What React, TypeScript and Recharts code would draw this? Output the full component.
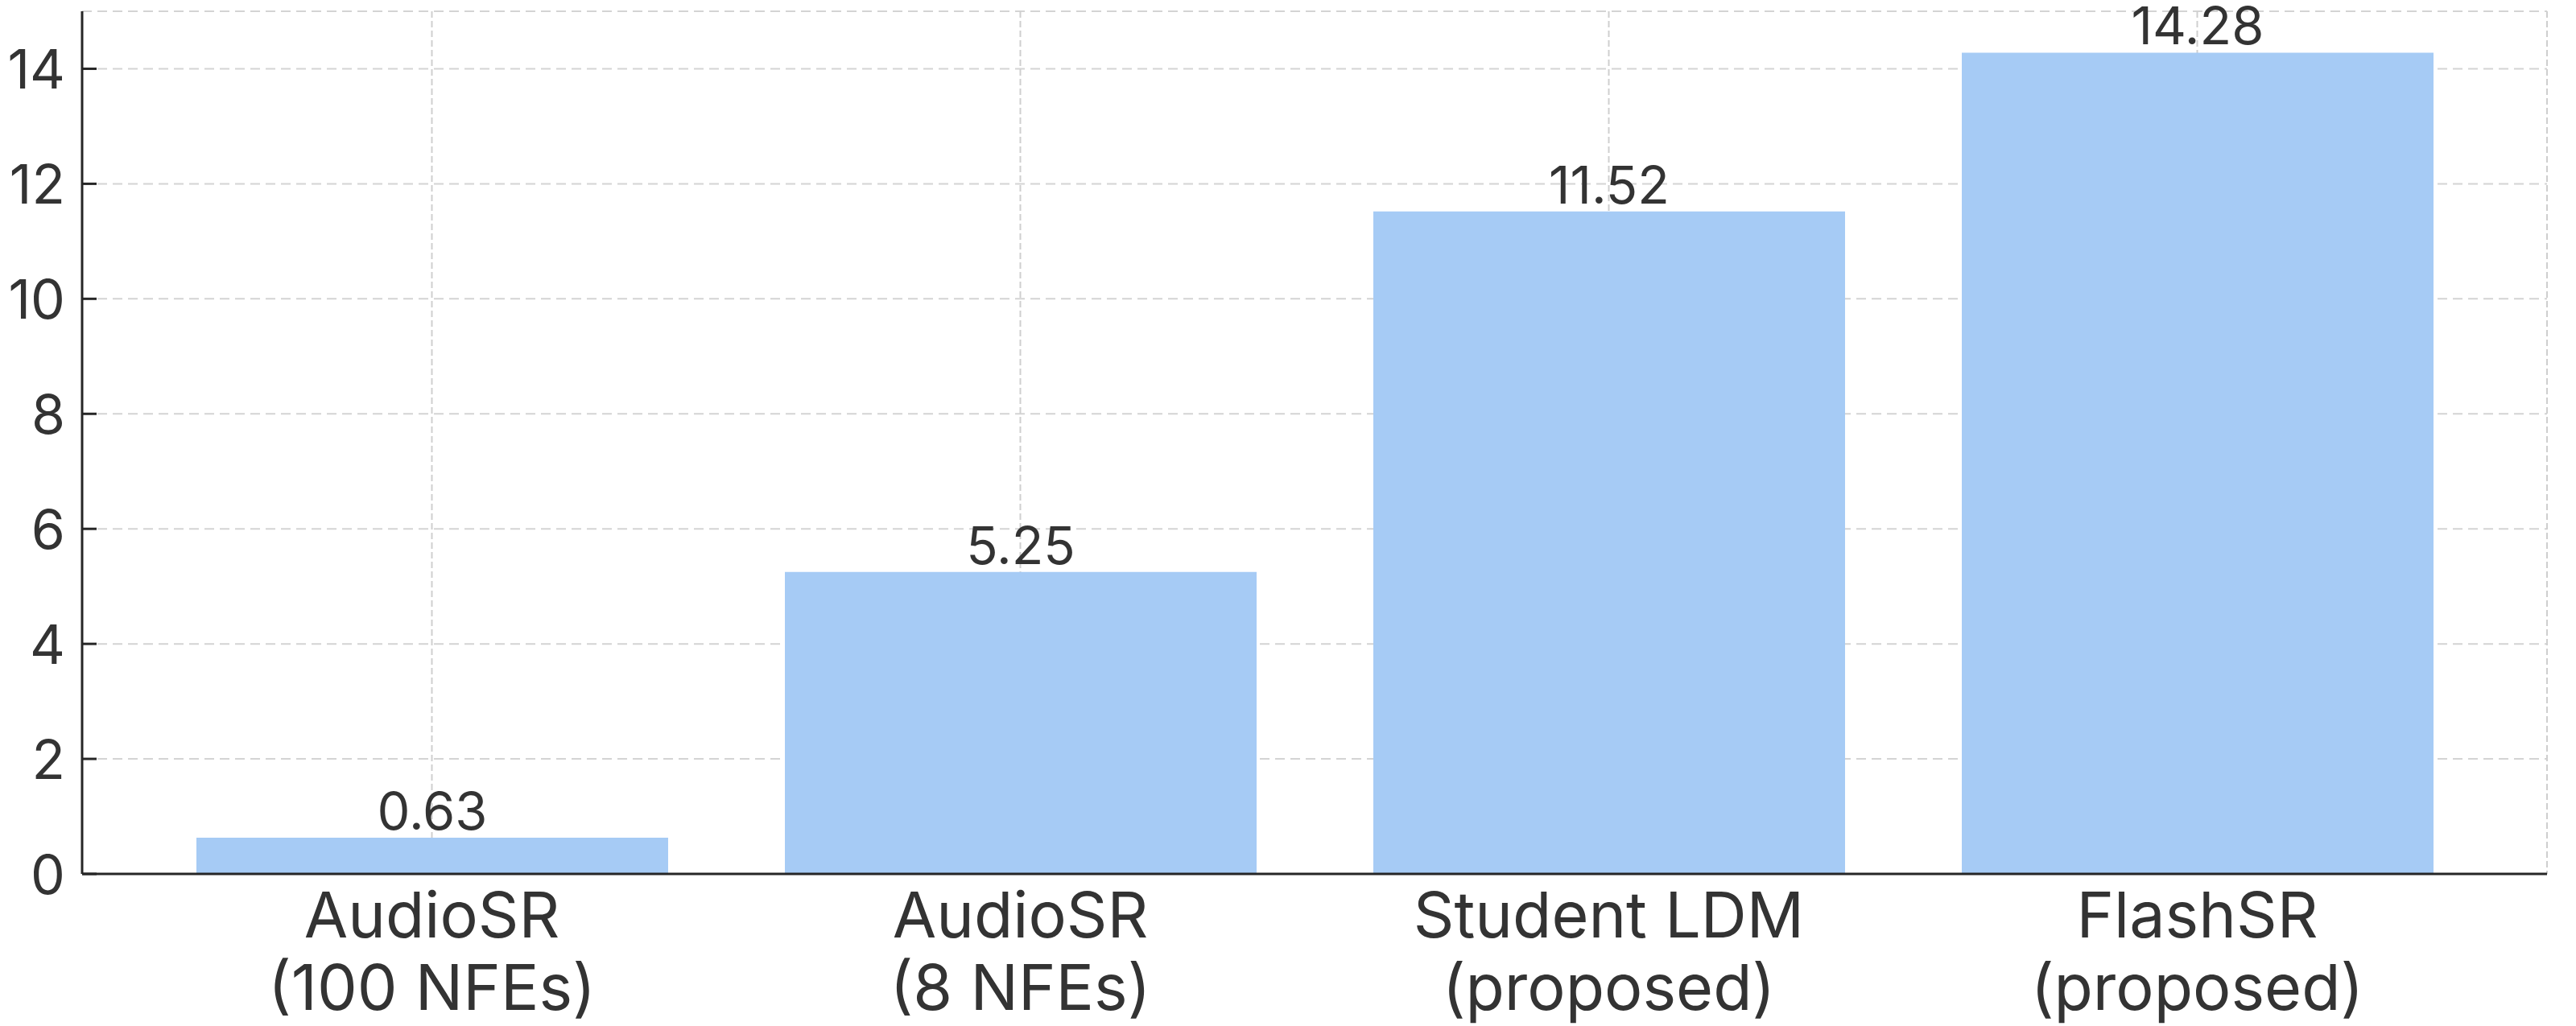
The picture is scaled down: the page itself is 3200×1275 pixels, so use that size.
import React from 'react';
import { BarChart, Bar, XAxis, YAxis, CartesianGrid, LabelList } from 'recharts';

const methodNames = ['AudioSR', 'AudioSR', 'Student LDM', 'FlashSR'];
const methodNotes = ['(100 NFEs)', '(8 NFEs)', '(proposed)', '(proposed)'];
const speedups = [0.63, 5.25, 11.52, 14.28];
const yTicks = [0, 2, 4, 6, 8, 10, 12, 14];

const data = methodNames.map((name, i) => ({
  key: `${name} ${methodNotes[i]}`,
  name,
  note: methodNotes[i],
  value: speedups[i],
}));

const FONT = 'Inter, "Noto Sans", sans-serif';
const TEXT = '#333333';
const AXIS = '#262626';

// y ticks point inward, like the reference
const YTick = (props: any) => {
  const { x, y, payload } = props;
  return (
    <g>
      <line x1={x + 21} x2={x + 39} y1={y} y2={y} stroke={AXIS} strokeWidth={3} />
      <text x={x} y={y} textAnchor="end" dominantBaseline="central" fontFamily={FONT} fontSize={68} fill={TEXT}>
        {payload.value}
      </text>
    </g>
  );
};

// two-line category labels
const XTick = (props: any) => {
  const { x, y, index } = props;
  return (
    <text textAnchor="middle" fontFamily={FONT} fontSize={79} fill={TEXT}>
      <tspan x={x} y={y + 77}>{methodNames[index]}</tspan>
      <tspan x={x} y={y + 167}>{methodNotes[index]}</tspan>
    </text>
  );
};

const App: React.FC = () => {
  return (
    <div style={{ position: 'absolute', left: 0, top: 0, background: '#fff' }}>
      <BarChart
        width={3200}
        height={1275}
        data={data}
        margin={{ top: 14, right: 36, left: 0, bottom: 0 }}
        barSize={586}
      >
        <CartesianGrid horizontal={true} vertical={false} stroke="#d4d4d4" strokeWidth={2} strokeDasharray="12 7" />
        <CartesianGrid horizontal={false} vertical={true} stroke="#cfcfcf" strokeWidth={2} strokeDasharray="8 4" />
        <XAxis
          dataKey="key"
          height={189}
          padding={{ left: 69, right: 69 }}
          axisLine={{ stroke: AXIS, strokeWidth: 3 }}
          tickLine={false}
          tickSize={0}
          tick={<XTick />}
          interval={0}
        />
        <YAxis
          width={102}
          domain={[0, 15]}
          ticks={yTicks}
          allowDataOverflow
          axisLine={{ stroke: AXIS, strokeWidth: 3 }}
          tickLine={false}
          tickSize={0}
          tickMargin={21}
          tick={<YTick />}
        />
        <Bar dataKey="value" fill="#a6cbf5" isAnimationActive={false}>
          <LabelList
            dataKey="value"
            position="top"
            offset={10}
            fontFamily={FONT}
            fontSize={65}
            fill={TEXT}
            formatter={(v: any) => Number(v).toFixed(2)}
          />
        </Bar>
      </BarChart>
    </div>
  );
};

export default App;
